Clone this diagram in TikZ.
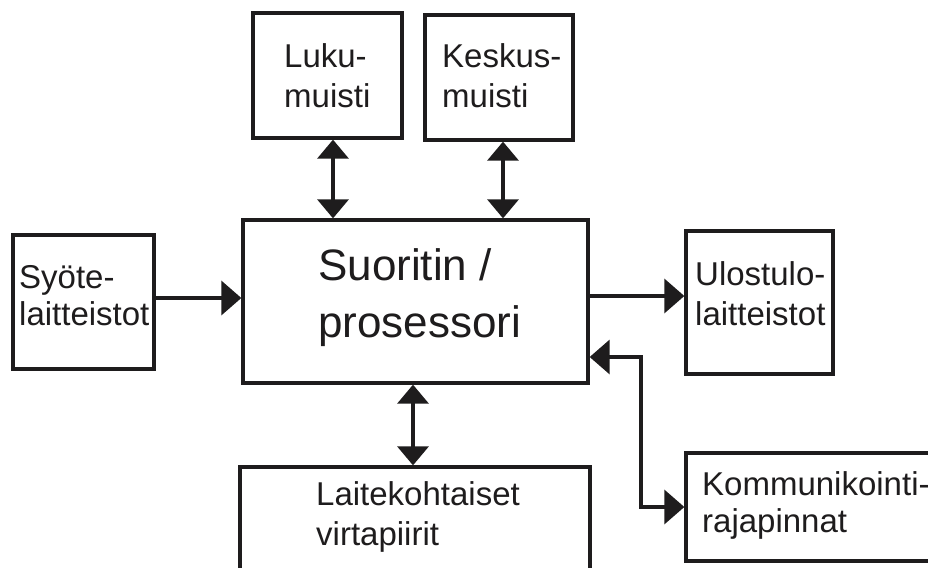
\documentclass[tikz,border=0pt]{standalone}
\usepackage{fontspec}
\setmainfont{Liberation Sans}
\usetikzlibrary{arrows.meta}
\definecolor{ink}{RGB}{30,28,29}

\begin{document}
\begin{tikzpicture}[x=1pt,y=-1pt,
  blockbox/.style={draw=ink,line width=3.3pt,rectangle,inner sep=0pt},
  label/.style={inner sep=0pt,anchor=base west,align=left,text=ink,
    font=\fontsize{33}{40}\selectfont},
  biglabel/.style={label,font=\fontsize{44}{57}\selectfont},
  link/.style={draw=ink,line width=3.3pt},
  vbi/.style={link,{Triangle[length=19pt,width=31pt]}-{Triangle[length=19pt,width=31pt]}},
  hone/.style={link,-{Triangle[length=20pt,width=34pt]}},
  hbi/.style={link,{Triangle[length=20pt,width=34pt]}-{Triangle[length=20pt,width=34pt]}}]

\clip (0,0) rectangle (928,567);
\fill[white] (0,0) rectangle (928,567);

% blocks
\node[blockbox,minimum width=149pt,minimum height=125pt] (luku) at (327.5,75.5) {};
\node[blockbox,minimum width=148pt,minimum height=125pt] (kesk) at (499,77.5) {};
\node[blockbox,minimum width=345pt,minimum height=163pt] (proc) at (415.5,301.5) {};
\node[blockbox,minimum width=141pt,minimum height=134pt] (syote) at (83.5,302) {};
\node[blockbox,minimum width=147pt,minimum height=143pt] (ulos) at (759.5,302.5) {};
\node[blockbox,minimum width=260pt,minimum height=108pt] (komm) at (816,507) {};
\node[blockbox,minimum width=350pt,minimum height=130pt] (piiri) at (415,532) {};

% texts (anchored at the baseline of the last line)
\node[label] (tluku) at (284,108) {Luku-\\muisti};
\node[label] (tkesk) at (442,108) {Keskus-\\muisti};
\node[biglabel] (tproc) at (318,337) {Suoritin /\\prosessori};
\node[label,font=\fontsize{33}{37}\selectfont] (tsyote) at (19,325) {Syöte-\\laitteistot};
\node[label] (tulos) at (695,325) {Ulostulo-\\laitteistot};
\node[label,font=\fontsize{33}{37}\selectfont] (tkomm) at (702,532) {Kommunikointi-\\rajapinnat};
\node[label] (tpiiri) at (316,545) {Laitekohtaiset\\virtapiirit};

% connectors
\draw[vbi] (luku.south -| 333,0) -- (proc.north -| 333,0);
\draw[vbi] (kesk.south -| 503,0) -- (proc.north -| 503,0);
\draw[vbi] (proc.south -| 413,0) -- (piiri.north -| 413,0);
\draw[hone] (syote.east |- 0,298) -- (proc.west |- 0,298);
\draw[hone] (proc.east |- 0,296) -- (ulos.west |- 0,296);
\coordinate (bend) at (641,507);
\draw[hbi] (proc.east |- 0,357) -| (bend) -- (komm.west |- bend);
\end{tikzpicture}
\end{document}
